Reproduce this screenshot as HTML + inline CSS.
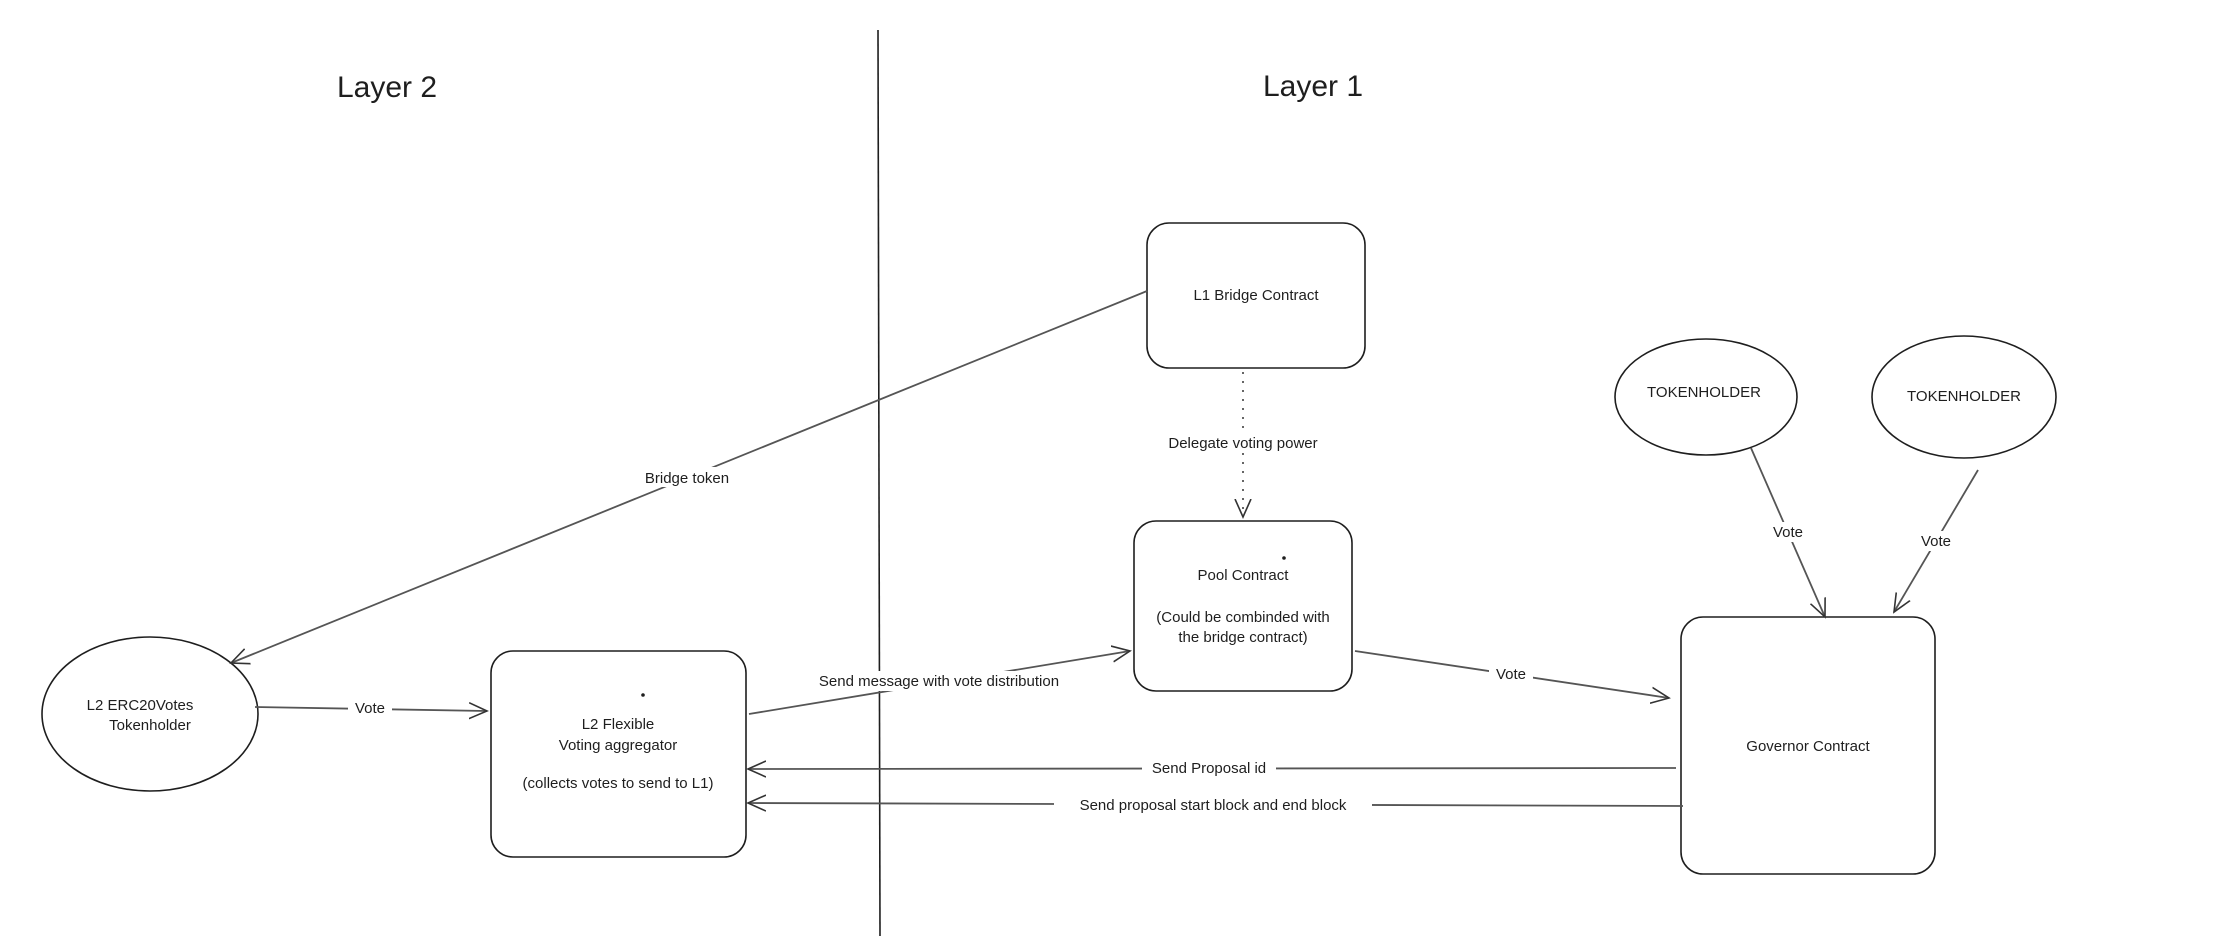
<!DOCTYPE html>
<html><head><meta charset="utf-8"><style>
html,body{margin:0;padding:0;background:#fff;}
svg{display:block;}
text{font-family:"Liberation Sans",sans-serif;fill:#1e1e1e;}
</style></head><body>
<svg width="2225" height="936" viewBox="0 0 2225 936" xmlns="http://www.w3.org/2000/svg">
<defs>
<marker id="a" markerWidth="20" markerHeight="20" refX="18" refY="10" orient="auto" markerUnits="userSpaceOnUse">
<path d="M0,2 L18,10 L0,18" fill="none" stroke="#333" stroke-width="1.6"/>
</marker>
</defs>
<rect width="2225" height="936" fill="#fff"/>
<line x1="878" y1="30" x2="880" y2="936" stroke="#1e1e1e" stroke-width="1.6"/>
<text x="387" y="97" font-size="30" text-anchor="middle">Layer 2</text>
<text x="1313" y="96" font-size="30" text-anchor="middle">Layer 1</text>

<g fill="none" stroke="#1e1e1e" stroke-width="1.6">
<rect x="1147" y="223" width="218" height="145" rx="22"/>
<rect x="1134" y="521" width="218" height="170" rx="22"/>
<rect x="491" y="651" width="255" height="206" rx="22"/>
<rect x="1681" y="617" width="254" height="257" rx="22"/>
<ellipse cx="150" cy="714" rx="108" ry="77"/>
<ellipse cx="1706" cy="397" rx="91" ry="58"/>
<ellipse cx="1964" cy="397" rx="92" ry="61"/>
</g>

<g fill="none" stroke="#555" stroke-width="1.8">
<line x1="1147" y1="291" x2="231" y2="663" marker-end="url(#a)"/>
<line x1="1243" y1="372" x2="1243" y2="517" stroke-dasharray="2,7" marker-end="url(#a)"/>
<line x1="255" y1="707" x2="487" y2="711" marker-end="url(#a)"/>
<line x1="749" y1="714" x2="1130" y2="651" marker-end="url(#a)"/>
<line x1="1355" y1="651" x2="1669" y2="698" marker-end="url(#a)"/>
<line x1="1676" y1="768" x2="748" y2="769" marker-end="url(#a)"/>
<line x1="1683" y1="806" x2="748" y2="803" marker-end="url(#a)"/>
<line x1="1751" y1="448" x2="1825" y2="617" marker-end="url(#a)"/>
<line x1="1978" y1="470" x2="1894" y2="612" marker-end="url(#a)"/>
</g>

<g font-size="15" text-anchor="middle">
<rect x="635" y="467" width="104" height="20" fill="#fff"/><text x="687" y="483">Bridge token</text>
<rect x="1155" y="433" width="176" height="20" fill="#fff"/><text x="1243" y="448">Delegate voting power</text>
<rect x="348" y="698" width="44" height="20" fill="#fff"/><text x="370" y="713">Vote</text>
<rect x="795" y="671" width="288" height="20" fill="#fff"/><text x="939" y="686">Send message with vote distribution</text>
<rect x="1489" y="664" width="44" height="20" fill="#fff"/><text x="1511" y="679">Vote</text>
<rect x="1142" y="758" width="134" height="20" fill="#fff"/><text x="1209" y="773">Send Proposal id</text>
<rect x="1054" y="795" width="318" height="20" fill="#fff"/><text x="1213" y="810">Send proposal start block and end block</text>
<rect x="1766" y="522" width="44" height="20" fill="#fff"/><text x="1788" y="537">Vote</text>
<rect x="1914" y="531" width="44" height="20" fill="#fff"/><text x="1936" y="546">Vote</text>

<text x="1256" y="300">L1 Bridge Contract</text>
<text x="1243" y="580">Pool Contract</text>
<text x="1243" y="622">(Could be combinded with</text>
<text x="1243" y="642">the bridge contract)</text>
<text x="618" y="729">L2 Flexible</text>
<text x="618" y="750">Voting aggregator</text>
<text x="618" y="788">(collects votes to send to L1)</text>
<text x="1808" y="751">Governor Contract</text>
<text x="140" y="710">L2 ERC20Votes</text>
<text x="150" y="730">Tokenholder</text>
<text x="1704" y="397">TOKENHOLDER</text>
<text x="1964" y="401">TOKENHOLDER</text>
</g>
<circle cx="1284" cy="558" r="1.8" fill="#1e1e1e"/>
<circle cx="643" cy="695" r="1.8" fill="#1e1e1e"/>
</svg>
</body></html>
